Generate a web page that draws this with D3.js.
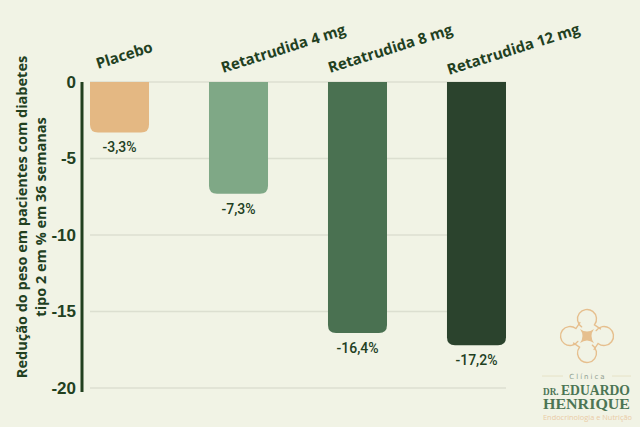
<!DOCTYPE html>
<html lang="pt">
<head>
  <meta charset="UTF-8">
  <title>Retatrudida</title>
  <style>
    body { margin: 0; background: #F1F3E5; }
    svg { display: block; font-family: 'Open Sans', sans-serif; }
    .tick text { fill: #22401F; font-weight: 700; font-size: 17px; }
  </style>
</head>
<body>
<svg width="640" height="427"></svg>
<script src="https://cdn.jsdelivr.net/npm/d3@7"></script>
<script>
  var categories = ["Placebo", "Retatrudida 4 mg", "Retatrudida 8 mg", "Retatrudida 12 mg"];
  var values = [-3.3, -7.3, -16.4, -17.2];
  var valueLabels = ["-3,3%", "-7,3%", "-16,4%", "-17,2%"];
  var yTicks = [0, -5, -10, -15, -20];
  var barColors = ["#E4B883", "#7FA886", "#4A7151", "#2B432D"];

  // hand-tuned nudges for the tilted category labels
  var labelDx = [8, 14, 2, 2];
  var labelY = [69, 73, 73, 75];

  var DARK = "#22401F";
  var svg = d3.select("svg");

  svg.append("rect").attr("width", 640).attr("height", 427).attr("fill", "#F1F3E5");

  var x = d3.scaleBand().domain(categories).range([90, 506]).paddingInner(0.504).paddingOuter(0);
  var y = d3.scaleLinear().domain([-20, 0]).range([388, 82]);

  // grid
  svg.append("g").selectAll("line").data(yTicks).join("line")
    .attr("x1", 90).attr("x2", 506)
    .attr("y1", function (d) { return y(d); })
    .attr("y2", function (d) { return y(d); })
    .attr("stroke", "#DCDFD0").attr("stroke-width", 1.5);

  // bars, square top, rounded bottom
  function barPath(d, i) {
    var x0 = x(categories[i]), w = x.bandwidth(), y0 = y(0), y1 = y(d), r = 8;
    return "M" + x0 + "," + y0 + "H" + (x0 + w) + "V" + (y1 - r) +
      "Q" + (x0 + w) + "," + y1 + " " + (x0 + w - r) + "," + y1 +
      "H" + (x0 + r) + "Q" + x0 + "," + y1 + " " + x0 + "," + (y1 - r) + "Z";
  }
  svg.append("g").selectAll("path").data(values).join("path")
    .attr("d", barPath)
    .attr("fill", function (d, i) { return barColors[i]; });

  // value labels
  svg.append("g").selectAll("text").data(values).join("text")
    .attr("x", function (d, i) { return x(categories[i]) + x.bandwidth() / 2; })
    .attr("y", function (d) { return y(d) + 20; })
    .attr("text-anchor", "middle")
    .attr("fill", DARK)
    .style("font-family", "Roboto, sans-serif")
    .style("font-weight", 500)
    .style("font-size", "14px")
    .text(function (d, i) { return valueLabels[i]; });

  // category labels, tilted
  svg.append("g").selectAll("text").data(categories).join("text")
    .attr("transform", function (d, i) {
      return "translate(" + (x(d) + labelDx[i]) + "," + labelY[i] + ") rotate(-17.5)";
    })
    .attr("fill", DARK)
    .style("font-weight", 700)
    .style("font-size", "15px")
    .text(function (d) { return d; });

  // y axis
  var yAxis = svg.append("g")
    .attr("transform", "translate(82,0)")
    .call(d3.axisLeft(y).tickValues(yTicks).tickSize(0).tickPadding(6));
  yAxis.select(".domain").remove();
  yAxis.selectAll(".tick text").text(function (d) { return d === 0 ? "0" : "-" + Math.abs(d); });

  svg.append("line")
    .attr("x1", 82).attr("x2", 82).attr("y1", y(0)).attr("y2", y(-20) + 4)
    .attr("stroke", DARK).attr("stroke-width", 3);

  // y title
  var title = svg.append("text")
    .attr("transform", "translate(27,217) rotate(-90)")
    .attr("text-anchor", "middle")
    .attr("fill", DARK)
    .style("font-weight", 700)
    .style("font-size", "14.5px");
  title.append("tspan").attr("x", 0).attr("dy", 0).text("Redução do peso em pacientes com diabetes");
  title.append("tspan").attr("x", 0).attr("dy", 19).text("tipo 2 em % em 36 semanas");

  // logo mark: four lobes in a pinwheel round a small star
  var TAN = "#E6BF8E";
  var logo = svg.append("g").attr("transform", "translate(587,336)");
  logo.append("path")
    .attr("d", "M-7,-7 Q0,-2 7,-7 Q2,0 7,7 Q0,2 -7,7 Q-2,0 -7,-7 Z")
    .attr("fill", TAN);
  [0, 90, 180, 270].forEach(function (a) {
    var lobe = logo.append("g").attr("transform", "rotate(" + a + ")");
    var cx = -17, r = 9.5;
    var p0 = [cx + r * Math.cos(0.6), r * Math.sin(0.6)];
    var p1 = [cx + r * Math.cos(-0.9), r * Math.sin(-0.9)];
    lobe.append("path")
      .attr("d", "M" + p0 + " A" + r + "," + r + " 0 1 1 " + p1 + " L" + (p1[0] + 4) + "," + (p1[1] - 6))
      .attr("fill", "none").attr("stroke", TAN).attr("stroke-width", 1.4).attr("stroke-linecap", "round");
  });

  var GREEN = "#4C7554";
  svg.append("line").attr("x1", 542).attr("x2", 563).attr("y1", 376).attr("y2", 376).attr("stroke", "#E6E2C6");
  svg.append("line").attr("x1", 612).attr("x2", 631).attr("y1", 376).attr("y2", 376).attr("stroke", "#E6E2C6");
  svg.append("text").attr("x", 588).attr("y", 379).attr("text-anchor", "middle")
    .style("font-family", "'DejaVu Sans', sans-serif").style("font-size", "7px").style("letter-spacing", "2px")
    .attr("fill", "#8FA08F").text("Clínica");
  var dr = svg.append("text").attr("x", 543).attr("y", 395)
    .attr("textLength", 87).attr("lengthAdjust", "spacingAndGlyphs")
    .attr("fill", GREEN)
    .style("font-family", "'Liberation Serif', serif").style("font-weight", 700);
  dr.append("tspan").style("font-size", "9.5px").text("DR. ");
  dr.append("tspan").style("font-size", "14px").text("EDUARDO");
  svg.append("text").attr("x", 543).attr("y", 409)
    .attr("textLength", 87).attr("lengthAdjust", "spacingAndGlyphs")
    .attr("fill", GREEN)
    .style("font-family", "'Liberation Serif', serif").style("font-weight", 700).style("font-size", "14px")
    .text("HENRIQUE");
  svg.append("text").attr("x", 543).attr("y", 420)
    .attr("textLength", 89).attr("lengthAdjust", "spacingAndGlyphs")
    .style("font-size", "7px").attr("fill", "#EACBA5").text("Endocrinologia e Nutrição");
</script>
</body>
</html>
